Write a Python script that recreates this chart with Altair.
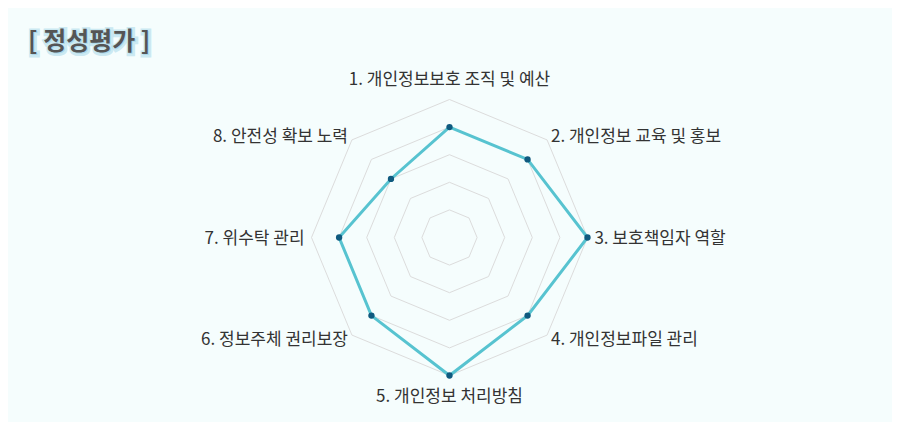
import altair as alt
import pandas as pd

# ---- data ----
title_text = "[ 정성평가 ]"
categories = [
    "1. 개인정보보호 조직 및 예산",
    "2. 개인정보 교육 및 홍보",
    "3. 보호책임자 역할",
    "4. 개인정보파일 관리",
    "5. 개인정보 처리방침",
    "6. 정보주체 권리보장",
    "7. 위수탁 관리",
    "8. 안전성 확보 노력",
]
values = [80, 80, 100, 80, 100, 80, 80, 60]
levels = [20, 40, 60, 80, 100]
n = len(categories)

# ---- tables built from the arrays ----
series_df = pd.DataFrame({
    "idx": list(range(n + 1)),
    "category": categories + [categories[0]],
    "value": values + [values[0]],
})
ring_rows = []
for lv in levels:
    for i in range(n + 1):
        ring_rows.append({"level": lv, "idx": i, "value": lv})
ring_df = pd.DataFrame(ring_rows)
label_df = pd.DataFrame({"idx": list(range(n)), "category": categories})

# ---- geometry / scales ----
W, H = 884, 414
PX = 1.38            # pixels per value unit (100 -> 138 px)
CX, CY = 441.5, 229.5
xs = alt.Scale(domain=[-CX / PX, (W - CX) / PX], nice=False, zero=False)
ys = alt.Scale(domain=[-(H - CY) / PX, CY / PX], nice=False, zero=False)

ang = f"datum.idx * 2 * PI / {n}"


def polar(ch, rexpr):
    return ch.transform_calculate(
        ang=ang,
        px=f"({rexpr}) * sin(datum.ang)",
        py=f"({rexpr}) * cos(datum.ang)",
    )


X = alt.X("px:Q", scale=xs, axis=None)
Y = alt.Y("py:Q", scale=ys, axis=None)

rings = polar(alt.Chart(ring_df), "datum.value").mark_line(
    color="#dcdcdc", strokeWidth=1
).encode(x=X, y=Y, detail="level:N", order="idx:Q")

line = polar(alt.Chart(series_df), "datum.value").mark_line(
    color="#57c3d0", strokeWidth=3
).encode(x=X, y=Y, order="idx:Q")

points = polar(alt.Chart(series_df), "datum.value").transform_filter(
    f"datum.idx < {n}"
).mark_point(filled=True, color="#0f5a7f", size=40, opacity=1).encode(
    x=X, y=Y, tooltip=["category:N", "value:Q"]
)

lab_base = alt.Chart(label_df).transform_calculate(
    ang=ang,
    s="sin(datum.idx * 2 * PI / %d)" % n,
    c="cos(datum.idx * 2 * PI / %d)" % n,
    r="abs(datum.s) < 0.01 ? 114.5 : (abs(datum.s) > 0.99 ? 105 : 104)",
    px="datum.r * datum.s",
    py="datum.r * datum.c",
    side="datum.s > 0.01 ? 'L' : (datum.s < -0.01 ? 'R' : 'C')",
)
font = "Noto Sans CJK KR"
lab_layers = []
for side, al in [("L", "left"), ("R", "right"), ("C", "center")]:
    lab_layers.append(
        lab_base.transform_filter(f"datum.side == '{side}'").mark_text(
            align=al, baseline="middle", font=font, fontSize=17, color="#333333",
            dy=1,
        ).encode(x=X, y=Y, text="category:N")
    )

title_df = pd.DataFrame({"t": [title_text]})
title_glow = alt.Chart(title_df).mark_text(
    align="left", baseline="middle", font=font, fontSize=25, fontWeight="bold",
    color="#9fd3e6", stroke="#a8d8ea", strokeWidth=5, strokeOpacity=0.6, opacity=0.9,
    dx=1, dy=1,
).encode(x=alt.value(20), y=alt.value(34), text="t:N")
title = alt.Chart(title_df).mark_text(
    align="left", baseline="middle", font=font, fontSize=25, fontWeight="bold",
    color="#555555",
).encode(x=alt.value(20), y=alt.value(34), text="t:N")

chart = alt.layer(rings, line, points, *lab_layers, title_glow, title).properties(
    width=W, height=H,
    autosize=alt.AutoSizeParams(type="none"),
    padding=0,
    background="#f5fdfd",
).configure_view(stroke=None)

chart.save("out.html", embed_options={"renderer": "svg", "actions": False})
